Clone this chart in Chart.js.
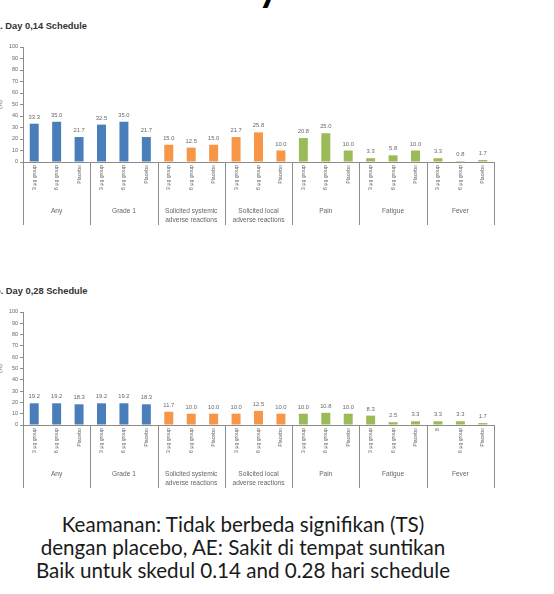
<!DOCTYPE html>
<html>
<head>
<meta charset="utf-8">
<script src="https://cdn.jsdelivr.net/npm/chart.js@4.4.1/dist/chart.umd.min.js"></script>
<style>
  body { margin: 0; background: #fff; width: 554px; height: 594px; overflow: hidden; position: relative; font-family: 'Liberation Sans', Arial, sans-serif; }
  .box { position: absolute; }
  .title { position: absolute; left: -5px; font-weight: bold; font-size: 9.3px; color: #333; white-space: nowrap; }
  .caption { position: absolute; left: -34px; top: 513px; width: 554px; text-align: center; font-family: Lato, 'Open Sans', sans-serif; font-size: 20.6px; line-height: 23px; color: #1a1a1a; }
  .frag { position: absolute; left: 258px; top: -34px; font-family: Lato, sans-serif; font-weight: bold; font-size: 40px; line-height: 40px; color: #000; }
</style>
</head>
<body>
<div class="frag">y</div>
<div class="title" style="top:21px">a. Day 0,14 Schedule</div>
<div class="box" style="left:-3px; top:36px; width:503px; height:196px"><canvas id="chart14"></canvas></div>
<div class="title" style="top:286px">b. Day 0,28 Schedule</div>
<div class="box" style="left:-3px; top:301px; width:503px; height:194px"><canvas id="chart28"></canvas></div>
<div class="caption">Keamanan: Tidak berbeda signifikan (TS)<br>dengan placebo, AE: Sakit di tempat suntikan<br>Baik untuk skedul 0.14 and 0.28 hari schedule</div>

<script>
// groups along the x axis, three bars each
const groups = ['Any', 'Grade 1', ['Solicited systemic', 'adverse reactions'], ['Solicited local', 'adverse reactions'], 'Pain', 'Fatigue', 'Fever'];
const groupColors = ['#4a7ebb', '#4a7ebb', '#f79646', '#f79646', '#9bbb59', '#9bbb59', '#9bbb59'];

const labels14 = [
  '3 μg group', '6 μg group', 'Placebo',
  '3 μg group', '6 μg group', 'Placebo',
  '3 μg group', '6 μg group', 'Placebo',
  '3 μg group', '6 μg group', 'Placebo',
  '3 μg group', '6 μg group', 'Placebo',
  '3 μg group', '6 μg group', 'Placebo',
  '3 μg group', '6 μg group', 'Placebo'
];
const labels28 = [
  '3 μg group', '6 μg group', 'Placebo',
  '3 μg group', '6 μg group', 'Placebo',
  '3 μg group', '6 μg group', 'Placebo',
  '3 μg group', '6 μg group', 'Placebo',
  '3 μg group', '6 μg group', 'Placebo',
  '3 μg group', '6 μg group', 'Placebo',
  '8', '6 μg group', 'Placebo'
];

// % of participants
const day14 = [33.3, 35.0, 21.7, 32.5, 35.0, 21.7, 15.0, 12.5, 15.0, 21.7, 25.8, 10.0, 20.8, 25.0, 10.0, 3.3, 5.8, 10.0, 3.3, 0.8, 1.7];
const day28 = [19.2, 19.2, 18.3, 19.2, 19.2, 18.3, 11.7, 10.0, 10.0, 10.0, 12.5, 10.0, 10.0, 10.8, 10.0, 8.3, 2.5, 3.3, 3.3, 3.3, 1.7];

const yMax = 100;
const yStep = 10;

const textGrey = '#666';
const lineGrey = '#8c8c8c';

const barColors = labels14.map((l, i) => groupColors[Math.floor(i / 3)]);

// value labels, group separators and group names
const groupPlugin = {
  id: 'groupPlugin',
  afterDraw(chart) {
    const ctx = chart.ctx;
    const x = chart.scales.x;
    const bottom = chart.chartArea.bottom;
    const meta = chart.getDatasetMeta(0);
    const values = chart.data.datasets[0].data;

    ctx.save();
    ctx.fillStyle = textGrey;
    ctx.font = '5.8px "Liberation Sans", Arial, sans-serif';
    ctx.textAlign = 'center';
    ctx.textBaseline = 'alphabetic';
    meta.data.forEach((bar, i) => {
      ctx.fillText(values[i].toFixed(1), bar.x, bar.y - 5);
    });

    const half = (x.getPixelForValue(1) - x.getPixelForValue(0)) / 2;
    ctx.strokeStyle = lineGrey;
    ctx.lineWidth = 1;
    for (let g = 0; g <= groups.length; g++) {
      const px = g < groups.length ? x.getPixelForValue(g * 3) - half : x.getPixelForValue(groups.length * 3 - 1) + half;
      ctx.beginPath();
      ctx.moveTo(Math.round(px) + 0.5, bottom);
      ctx.lineTo(Math.round(px) + 0.5, bottom + 63);
      ctx.stroke();
    }

    ctx.font = '6.6px "Liberation Sans", Arial, sans-serif';
    ctx.textBaseline = 'middle';
    groups.forEach((name, g) => {
      const cx = x.getPixelForValue(g * 3 + 1);
      const lines = Array.isArray(name) ? name : [name];
      lines.forEach((line, k) => ctx.fillText(line, cx, bottom + 49 + k * 9));
    });
    ctx.restore();
  }
};

function makeChart(id, labels, data, topPad) {
  return new Chart(document.getElementById(id), {
    type: 'bar',
    data: {
      labels: labels,
      datasets: [{
        data: data,
        backgroundColor: barColors,
        barPercentage: 0.4,
        categoryPercentage: 1.0
      }]
    },
    plugins: [groupPlugin],
    options: {
      responsive: true,
      maintainAspectRatio: false,
      animation: false,
      layout: { padding: { top: topPad, right: 6, left: 0, bottom: 0 } },
      plugins: {
        legend: { display: false },
        tooltip: { enabled: false }
      },
      scales: {
        x: {
          grid: { display: false, drawTicks: false },
          border: { color: lineGrey, width: 1 },
          ticks: {
            autoSkip: false,
            minRotation: 90,
            maxRotation: 90,
            padding: 3,
            color: textGrey,
            font: { size: 5.2, family: '"Liberation Sans", Arial, sans-serif' }
          },
          afterFit: scale => { scale.height = 70; }
        },
        y: {
          min: 0,
          max: yMax,
          grid: { drawOnChartArea: false, drawTicks: true, tickLength: 3, color: lineGrey },
          border: { color: lineGrey, width: 1 },
          ticks: {
            stepSize: yStep,
            padding: 2,
            color: textGrey,
            font: { size: 5.4, family: '"Liberation Sans", Arial, sans-serif' }
          },
          title: {
            display: true,
            text: '(%)',
            padding: 0,
            color: textGrey,
            font: { size: 5.4, family: '"Liberation Sans", Arial, sans-serif' }
          },
          afterFit: scale => { scale.width = 26; }
        }
      }
    }
  });
}

makeChart('chart14', labels14, day14, 11);
makeChart('chart28', labels28, day28, 11);
</script>
</body>
</html>
